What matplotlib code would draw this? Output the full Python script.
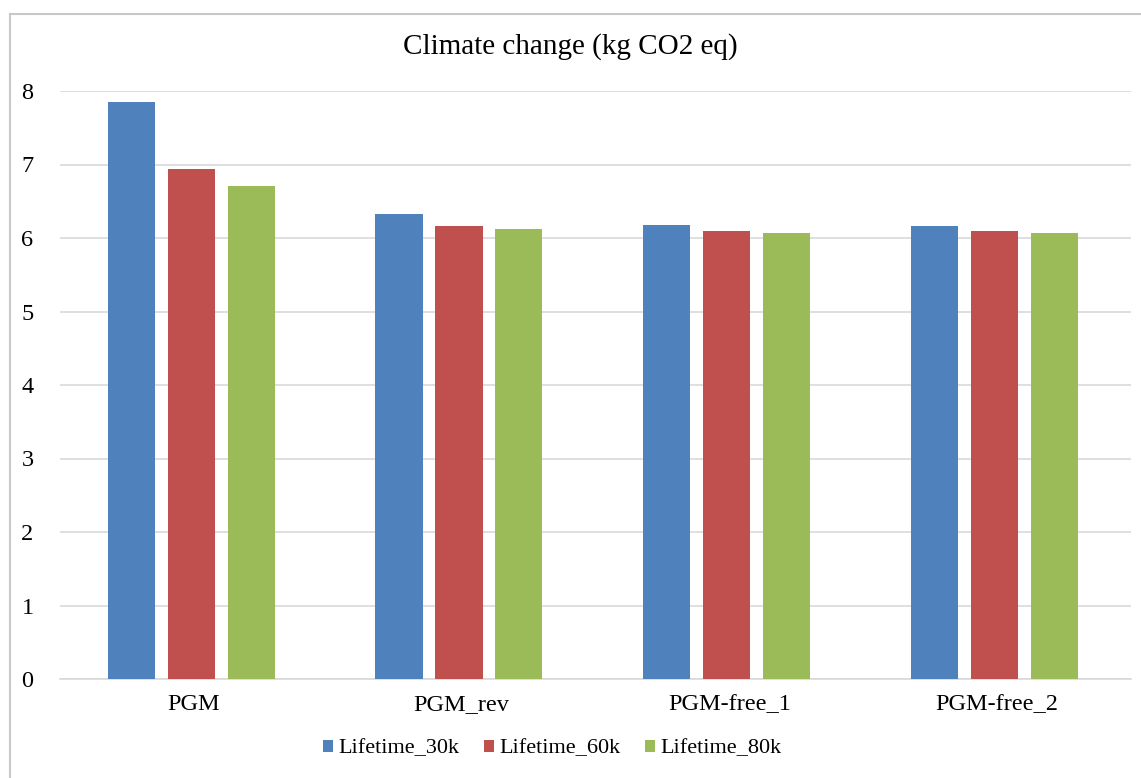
import numpy as np
import matplotlib
matplotlib.use("Agg")
import matplotlib.pyplot as plt
from matplotlib.patches import Rectangle

plt.rcParams['font.family'] = ['Liberation Serif', 'DejaVu Serif']

# 数据
categories = ["PGM", "PGM_rev", "PGM-free_1", "PGM-free_2"]
series_names = ["Lifetime_30k", "Lifetime_60k", "Lifetime_80k"]
life_30k = [7.85, 6.33, 6.18, 6.16]
life_60k = [6.94, 6.16, 6.09, 6.09]
life_80k = [6.71, 6.12, 6.07, 6.07]
colors = ["#4F81BD", "#C0504D", "#9BBB59"]

fig = plt.figure(figsize=(11.41, 7.78), dpi=100)
ax = fig.add_axes([60 / 1141, 1 - 679 / 778, 1071 / 1141, 588 / 778])

x = np.arange(len(categories))
width = 0.176
step = 0.224
for i, (vals, name) in enumerate(zip([life_30k, life_60k, life_80k], series_names)):
    ax.bar(x + (i - 1) * step - 0.01, vals, width=width, color=colors[i], label=name, zorder=3)

ax.set_xlim(-0.5, 3.5)
ax.set_ylim(0, 8)
ax.set_yticks(range(0, 9))
ax.set_xticks(x)
ax.set_xticklabels(categories)
ax.tick_params(axis='both', length=0, labelsize=17.5, colors='black')
ax.tick_params(axis='y', pad=19)
ax.tick_params(axis='x', pad=11)
ax.grid(axis='y', color='#d9d9d9', linewidth=1.2, zorder=0)
for s in ['top', 'right', 'left']:
    ax.spines[s].set_visible(False)
ax.spines['bottom'].set_color('#d9d9d9')
ax.spines['bottom'].set_linewidth(1.2)

fig.text(0.5, 1 - 47 / 778, "Climate change (kg CO2 eq)", ha='center', va='center', fontsize=21)

leg = fig.legend(loc='center', bbox_to_anchor=(552 / 1141, 1 - 749 / 778), ncol=3, frameon=False,
                 fontsize=16, handlelength=0.45, handleheight=0.45, handletextpad=0.25, columnspacing=1.1)

# 外框
fig.patches.append(Rectangle((10 / 1141, -0.01), 1.02, 1 - 14 / 778 + 0.01, transform=fig.transFigure,
                             fill=False, edgecolor='#c8c8c8', linewidth=1.5))

fig.savefig("out.png", dpi=100)
